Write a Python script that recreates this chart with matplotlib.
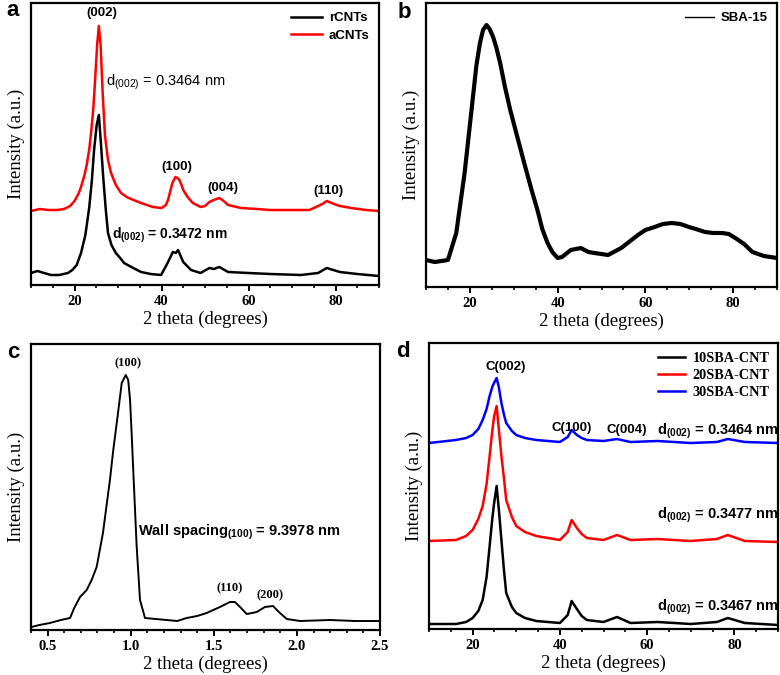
import matplotlib
matplotlib.use("Agg")
import matplotlib.pyplot as plt
from matplotlib.ticker import MultipleLocator
from matplotlib.lines import Line2D

# ---------------- data ----------------
# Panel a: CNTs
a_red_x = [10, 12, 14, 16, 17.6, 19, 20, 21, 21.5, 22.3, 22.8, 23.4, 23.8, 24.3, 24.6, 25.0, 25.2, 25.6,
           26.0, 26.3, 26.5, 27.0, 27.7, 28.4, 29.5, 30.7, 32, 33, 35.3, 38, 40, 41, 41.5, 42.5, 43.2,
           44, 44.6, 45, 46, 47.2, 49, 50, 51, 52, 53.3, 54.3, 55.3, 58.3, 62, 65, 68, 72, 74, 75.5,
           77, 78, 79.7, 81, 83.6, 87, 90]
a_red_y = [74, 76, 75, 75, 76, 79, 84, 92, 98, 110, 120, 136, 152, 175, 195, 225, 240, 259,
           240, 210, 190, 150, 125, 112, 100, 92, 88, 86, 82, 78, 77, 80, 85, 102, 108,
           106, 100, 95, 88, 82, 78, 79, 83, 85, 87, 84, 80, 77, 76, 75, 75, 75, 75, 78,
           81, 84, 81, 79, 77, 75, 74]
a_blk_x = [10, 11.5, 13, 14.6, 16.5, 18.5, 19.5, 20.5, 21.5, 22.5, 23.4, 24.0, 24.5, 25.1, 25.6,
           26.1, 26.6, 27.2, 27.7, 28.5, 29.5, 30.5, 31.4, 33.5, 35.3, 37.5, 39.9, 41.4, 42.6, 43.3,
           43.8, 44.3, 45, 46.8, 49, 51, 52, 53.3, 55.3, 60, 65, 72, 76, 78, 81, 85, 90]
a_blk_y = [12, 14, 12, 10, 10, 12, 15, 20, 32, 50, 78, 105, 135, 160, 170,
           140, 108, 75, 52, 40, 32, 27, 22, 17, 13, 11, 10, 22, 33, 32,
           35, 30, 23, 15, 12, 17, 16, 18, 13, 12, 11, 10, 12, 17, 13, 11, 9]

# Panel b: SBA-15 wide angle
b_x = [10, 12, 15, 16.9, 18.8, 20.7, 21.5, 22.3, 23.0, 23.8, 24.5, 25.3, 26.0, 26.9, 28.0, 29.2,
       30.7, 32.2, 34.0, 35.4, 36.5, 37.7, 38.8, 40, 41, 43, 45.3, 47, 48.4, 51.5, 54.5, 58.3,
       60, 62.1, 64, 66, 68, 69.9, 71.5, 73.6, 75.5, 77.5, 79, 80.5, 82.5, 84.4, 87, 90]
b_y = [27, 25, 27, 54, 114, 190, 222, 244, 257, 262, 258, 250, 240, 224, 200, 177,
       152, 127, 98, 77, 58, 44, 35, 29, 30, 37, 39, 35, 34, 32, 39, 52,
       57, 60, 63, 64, 63, 60, 58, 55, 54, 54, 53, 49, 43, 35, 31, 29]

# Panel c: SBA-15 low angle
c_x = [0.404, 0.45, 0.514, 0.58, 0.635, 0.66, 0.695, 0.735, 0.765, 0.795, 0.833, 0.855, 0.875,
       0.895, 0.916, 0.946, 0.970, 0.985, 0.996, 1.006, 1.016, 1.036, 1.056, 1.086, 1.15, 1.216,
       1.28, 1.337, 1.40, 1.457, 1.537, 1.597, 1.627, 1.658, 1.698, 1.73, 1.758, 1.808, 1.856,
       1.898, 1.939, 2.019, 2.2, 2.35, 2.5]
c_y = [3, 5, 7, 10, 12, 22, 33, 40, 50, 63, 97, 125, 150,
       180, 207, 247, 255, 250, 230, 195, 157, 83, 30, 12, 11, 10,
       9, 12, 14, 17, 23, 28, 28, 23, 16, 17, 18, 23, 24,
       17, 11, 9, 10, 9, 9]

# Panel d: SBA-CNT composites
d_x = [10, 16.2, 18.5, 20, 21.3, 22.3, 23.2, 23.9, 24.5, 24.9, 25.5, 26.0, 26.6, 27.2, 27.7, 29,
       30, 32, 34.6, 40, 41.8, 42.7, 43.9, 45, 46.2, 50, 53.1, 56.2, 62.4, 70, 76, 78.5, 82.4, 90]
d_10 = [5, 5, 7, 11, 18, 29, 52, 83, 110, 125, 143, 120, 89, 58, 36, 22,
        16, 11, 8, 6, 14, 28, 20, 13, 9, 7, 12, 6, 7, 5, 7, 11, 6, 4]
d_20 = [88, 89, 93, 99, 110, 123, 145, 173, 198, 212, 223, 200, 173, 150, 129, 112,
        103, 97, 93, 89, 97, 109, 101, 95, 91, 89, 94, 89, 90, 88, 90, 94, 88, 87]
d_30 = [186, 189, 191, 194, 200, 209, 220, 233, 242, 246, 251, 242, 226, 214, 206, 198,
        194, 191, 189, 187, 192, 199, 194, 191, 189, 188, 190, 187, 188, 186, 187, 190, 187, 186]

a_labels = ["rCNTs", "aCNTs"]
b_label = "SBA-15"
d_labels = ["10SBA-CNT", "20SBA-CNT", "30SBA-CNT"]

# ---------------- style ----------------
SERIF = ["Liberation Serif", "DejaVu Serif"]
SANS = ["Liberation Sans", "DejaVu Sans"]
plt.rcParams["mathtext.fontset"] = "custom"
plt.rcParams["mathtext.rm"] = "Liberation Sans"
plt.rcParams["mathtext.bf"] = "Liberation Sans:bold"
plt.rcParams["mathtext.it"] = "Liberation Sans:italic"
plt.rcParams["lines.solid_joinstyle"] = "round"

W, H = 780, 675
fig = plt.figure(figsize=(W / 100, H / 100), dpi=100)


def make_ax(l, t, r, b):
    ax = fig.add_axes([l / W, 1 - b / H, (r - l) / W, (b - t) / H])
    for s in ax.spines.values():
        s.set_linewidth(1.6)
    ax.set_yticks([])
    ax.tick_params(axis="x", which="major", direction="out", length=4, width=1.4, pad=3)
    ax.tick_params(axis="x", which="minor", direction="out", length=2.5, width=1.2)
    ax.set_xlabel("2 theta (degrees)", fontsize=13.5, family=SERIF, labelpad=2)
    ax.set_ylabel("Intensity (a.u.)", fontsize=13.5, family=SERIF, labelpad=4)
    return ax


def style_ticks(ax):
    for lab in ax.get_xticklabels():
        lab.set_fontfamily(SERIF)
        lab.set_fontweight("bold")
        lab.set_fontsize(10.5)


def ftxt(x, y, s, **kw):
    fig.text(x / W, 1 - y / H, s, **kw)


# ---- panel a ----
axa = make_ax(31, 3, 379, 285)
axa.plot(a_blk_x, a_blk_y, color="black", lw=1.8, label=a_labels[0])
axa.plot(a_red_x, a_red_y, color="red", lw=1.8, label=a_labels[1])
axa.set_xlim(10, 90)
axa.set_ylim(0, 282)
axa.xaxis.set_major_locator(MultipleLocator(20))
axa.xaxis.set_minor_locator(MultipleLocator(5))
style_ticks(axa)
axa.legend(loc="upper right", frameon=False, prop={"family": SANS, "weight": "bold", "size": 9.5},
           handlelength=2.4, handletextpad=0.5, labelspacing=0.4, borderaxespad=0.3)

# ---- panel b ----
axb = make_ax(426, 3, 777, 287)
axb.plot(b_x, b_y, color="black", lw=3.0)
axb.set_xlim(10, 90)
axb.set_ylim(0, 284)
axb.xaxis.set_major_locator(MultipleLocator(20))
axb.xaxis.set_minor_locator(MultipleLocator(5))
style_ticks(axb)
axb.legend([Line2D([], [], color="black", lw=1.0)], [b_label], loc="upper right", frameon=False,
           prop={"family": SANS, "weight": "bold", "size": 9.5},
           handlelength=2.2, handletextpad=0.5, borderaxespad=0.3)

# ---- panel c ----
axc = make_ax(31, 344, 380, 630)
axc.plot(c_x, c_y, color="black", lw=1.4)
axc.set_xlim(0.4, 2.5)
axc.set_ylim(0, 286)
axc.xaxis.set_major_locator(MultipleLocator(0.5))
axc.xaxis.set_minor_locator(MultipleLocator(0.1))
style_ticks(axc)

# ---- panel d ----
axd = make_ax(429, 343, 778, 629)
axd.plot(d_x, d_10, color="black", lw=1.8, label=d_labels[0])
axd.plot(d_x, d_20, color="red", lw=1.8, label=d_labels[1])
axd.plot(d_x, d_30, color="blue", lw=1.8, label=d_labels[2])
axd.set_xlim(10, 90)
axd.set_ylim(0, 286)
axd.xaxis.set_major_locator(MultipleLocator(20))
axd.xaxis.set_minor_locator(MultipleLocator(5))
style_ticks(axd)
axd.legend(loc="upper right", frameon=False, prop={"family": SERIF, "weight": "bold", "size": 10.3},
           handlelength=1.9, handletextpad=0.5, labelspacing=0.3, borderaxespad=0.2)

# ---------------- annotations ----------------
pl = dict(family=SANS, weight="bold", fontsize=16, ha="center", va="center")
ftxt(13, 11, "a", **pl)
ftxt(404, 12, "b", **pl)
ftxt(13, 353, "c", **pl)
ftxt(403, 352, "d", **pl)

sb = dict(family=SANS, weight="bold", fontsize=9.5, ha="center", va="center")
ftxt(102, 13, "(002)", **sb)
ftxt(177, 167, "(100)", **sb)
ftxt(223, 188, "(004)", **sb)
ftxt(328, 191, "(110)", **sb)

reg = dict(family=SANS, fontsize=10.5, ha="left", va="center")
bld = dict(family=SANS, weight="bold", fontsize=10.5, ha="left", va="center")
ftxt(106, 82, r"d$_{\mathrm{(002)}}$ = 0.3464 nm", **reg)
ftxt(112, 235, r"d$_{\mathbf{(002)}}$ = 0.3472 nm", family=SANS, weight="bold", fontsize=10,
     ha="left", va="center")

tb = dict(family=SERIF, weight="bold", fontsize=9, ha="center", va="center")
ftxt(128, 363, "(100)", **tb)
ftxt(230, 588, "(110)", **tb)
ftxt(270, 595, "(200)", **tb)
ftxt(138, 532, r"Wall spacing$_{\mathbf{(100)}}$ = 9.3978 nm", **bld)

ftxt(506, 367, "C(002)", **sb)
ftxt(572, 428, "C(100)", **sb)
ftxt(627, 430, "C(004)", **sb)
ftxt(657, 431, r"d$_{\mathbf{(002)}}$ = 0.3464 nm", **bld)
ftxt(657, 515, r"d$_{\mathbf{(002)}}$ = 0.3477 nm", **bld)
ftxt(657, 607, r"d$_{\mathbf{(002)}}$ = 0.3467 nm", **bld)

fig.savefig("out.png", dpi=100)
